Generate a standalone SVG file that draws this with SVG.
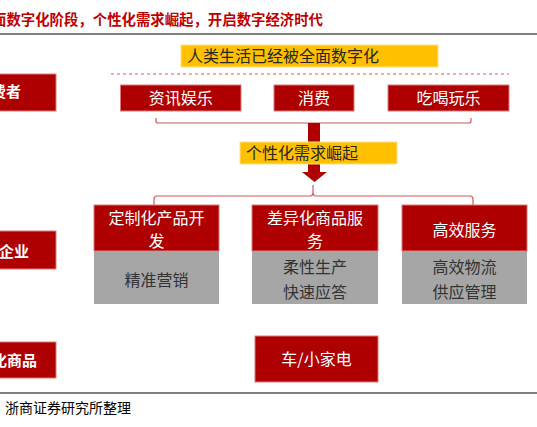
<svg xmlns="http://www.w3.org/2000/svg" width="537" height="427" viewBox="0 0 537 427">
<style>
text{font-family:"Noto Sans CJK SC","Liberation Sans",sans-serif;}
.red{fill:#AE0000;stroke:#E07A7A;stroke-width:1;}
.grey{fill:#A6A6A6;stroke:none;}
.yel{fill:#FFC000;stroke:#FFE08A;stroke-width:1;}
.wt{fill:#FFFFFF;font-size:16px;text-anchor:middle;}
.lbl{fill:#FFFFFF;font-size:15px;font-weight:bold;text-anchor:end;}
.dk{fill:#333333;font-size:16px;text-anchor:middle;}
.rule{stroke:#808080;stroke-width:2;fill:none;}
.brace{stroke:#D0585A;stroke-width:1.2;fill:none;}
</style>
<rect width="537" height="427" fill="#FFFFFF"/>
<text x="-8" y="25" style="font-size:14.4px;font-weight:bold;fill:#C00000;">面数字化阶段，个性化需求崛起，开启数字经济时代</text>
<line class="rule" x1="0" y1="34" x2="537" y2="34"/>

<g id="label-consumer">
<rect class="red" x="-2" y="74" width="58" height="37"/>
<text class="lbl" x="21" y="97">消费者</text>
</g>
<g id="label-enterprise">
<rect class="red" x="-2" y="231" width="58" height="38"/>
<text class="lbl" x="29" y="257">企业</text>
</g>
<g id="label-goods">
<rect class="red" x="-2" y="342" width="58" height="36"/>
<text class="lbl" x="37" y="366">化商品</text>
</g>

<g id="connectors">
<line x1="111" y1="74" x2="509" y2="74" stroke="#E05A5A" stroke-width="1" stroke-dasharray="3,3"/>
<path class="brace" d="M156,118 V121 Q156,123 158,123 H469 Q471,123 471,121 V118"/>
<rect x="308" y="123" width="12" height="49" fill="#AE0000"/>
<polygon points="302,172 327,172 314.5,182" fill="#AE0000"/>
<path class="brace" d="M154,205 V199 Q154,196 157,196 H310 Q313,196 313,192 V185 V192 Q313,196 316,196 H470 Q473,196 473,199 V205"/>
</g>

<g id="node-digital">
<rect class="yel" x="181" y="45" width="257" height="22"/>
<text x="187" y="62" style="font-size:16px;fill:#262626;">人类生活已经被全面数字化</text>
</g>

<g id="node-info">
<rect class="red" x="120.5" y="85" width="120.5" height="26"/>
<text class="wt" x="180.7" y="104">资讯娱乐</text>
</g>
<g id="node-consume">
<rect class="red" x="274" y="85" width="80" height="26"/>
<text class="wt" x="314" y="104">消费</text>
</g>
<g id="node-fun">
<rect class="red" x="388" y="85" width="121" height="26"/>
<text class="wt" x="448.5" y="104">吃喝玩乐</text>
</g>

<g id="node-personal">
<rect class="yel" x="240" y="142" width="157" height="22"/>
<text x="246" y="159" style="font-size:16px;fill:#262626;">个性化需求崛起</text>
</g>

<g id="node-custom">
<rect class="red" x="94" y="205" width="125" height="46"/>
<text class="wt" x="156.5" y="224">定制化产品开</text>
<text class="wt" x="156.5" y="247">发</text>
<rect class="grey" x="94" y="251" width="125" height="53"/>
<text class="dk" x="156.5" y="286">精准营销</text>
</g>
<g id="node-diff">
<rect class="red" x="252" y="205" width="126" height="46"/>
<text class="wt" x="315" y="224">差异化商品服</text>
<text class="wt" x="315" y="247">务</text>
<rect class="grey" x="252" y="251" width="126" height="53"/>
<text class="dk" x="315" y="273">柔性生产</text>
<text class="dk" x="315" y="298">快速应答</text>
</g>
<g id="node-service">
<rect class="red" x="402" y="205" width="125" height="46"/>
<text class="wt" x="464.5" y="236">高效服务</text>
<rect class="grey" x="402" y="251" width="125" height="53"/>
<text class="dk" x="464.5" y="273">高效物流</text>
<text class="dk" x="464.5" y="298">供应管理</text>
</g>

<g id="node-car">
<rect class="red" x="255" y="336" width="123" height="46"/>
<text class="wt" x="316.5" y="365">车/小家电</text>
</g>

<line class="rule" x1="0" y1="393" x2="537" y2="393"/>
<text x="5" y="413" style="font-size:14px;fill:#000000;">浙商证券研究所整理</text>
</svg>
